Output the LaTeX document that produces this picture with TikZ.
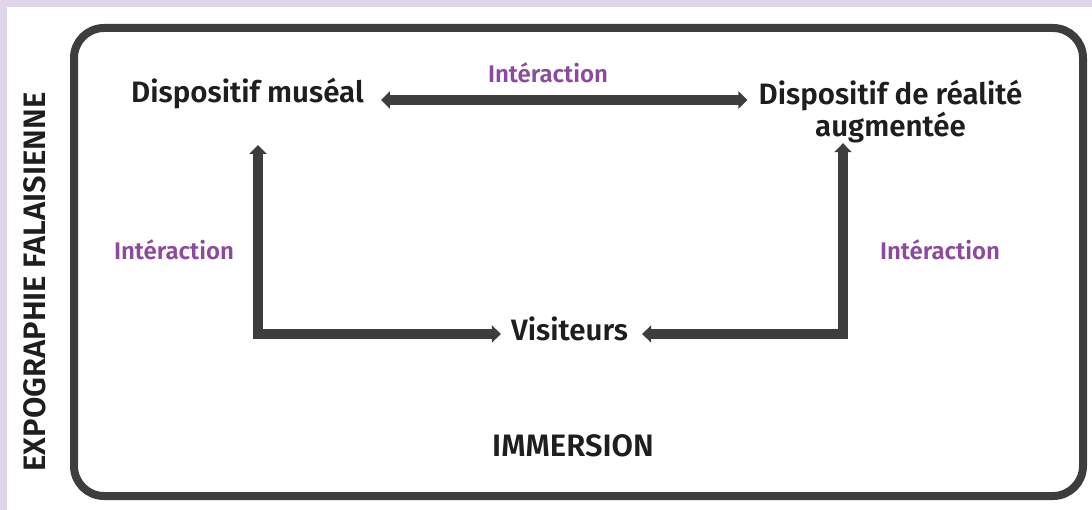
\documentclass[tikz,border=0pt]{standalone}
\usepackage{fontspec}
\setmainfont{Fira Sans}[BoldFont={* SemiBold}]
\usepackage{xcolor}
\usetikzlibrary{arrows.meta,positioning}
\definecolor{cadre}{HTML}{3D3D3D}
\definecolor{lila}{HTML}{8C4A9E}
\definecolor{bande}{HTML}{E0D5EA}
\definecolor{encre}{HTML}{1E1E1E}

\begin{document}
\begin{tikzpicture}[x=1pt, y=-1pt, >={Triangle[width=17pt,length=9pt]}, line join=miter]

\tikzstyle{bloc}=[
    inner sep=0pt,
    text=encre,
    font=\fontsize{29.5}{25}\selectfont\bfseries
]
\tikzstyle{lien}=[text=lila, font=\fontsize{24}{26}\selectfont\bfseries]
\tikzstyle{fleche}=[<->, line width=10pt, draw=cadre]

\useasboundingbox (0,0) rectangle (1092,510);
\fill[white] (0,0) rectangle (1092,510);
\fill[bande] (0,0) rectangle (1092,7);
\fill[bande] (0,0) rectangle (7,510);

\draw[line width=8pt, draw=cadre, rounded corners=30pt] (74,28) rectangle (1083,496);

\node[bloc, anchor=base] (Mus) at (247.5,103) {Dispositif muséal};
\node[bloc, anchor=north, align=center] (Rea) at (890.5,80) {Dispositif de réalité\\augmentée};
\node[bloc, anchor=base] (Vis) at (569.5,341) {Visiteurs};

\node[lien] (Int_0) at (548,73) {Intéraction};
\node[lien] (Int_1) at (174,250) {Intéraction};
\node[lien] (Int_2) at (940,250) {Intéraction};

\node[bloc, font=\fontsize{31}{31}\selectfont\bfseries] (Imm) at (573,446) {IMMERSION};
\node[bloc, rotate=90, font=\fontsize{31}{31}\selectfont\bfseries] (Exp) at (35,282) {EXPOGRAPHIE FALAISIENNE};

\coordinate (Haut) at ([yshift=3pt]Mus.base east);
\draw[fleche] ([xshift=17pt]Haut) -- ([xshift=-11pt]Haut -| Rea.west);
\draw[fleche] ([xshift=10.5pt,yshift=-42pt]Mus.base) |- ([xshift=-10pt,yshift=7pt]Vis.base west);
\draw[fleche] ([xshift=-47.5pt]Rea.south) |- ([xshift=14pt,yshift=7pt]Vis.base east);

\end{tikzpicture}
\end{document}
